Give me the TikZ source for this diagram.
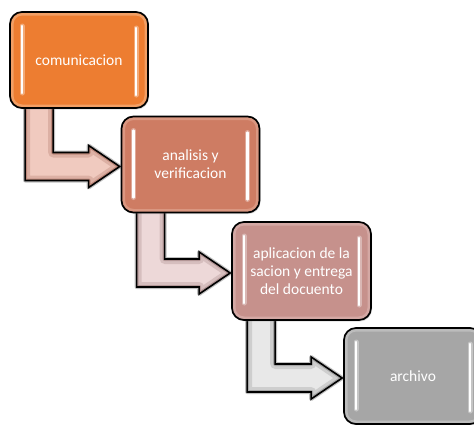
\documentclass[tikz,border=0pt]{standalone}
\usepackage{fontspec}
\setmainfont{Carlito}
\usetikzlibrary{calc,shadows}
\pgfdeclarelayer{bg}
\pgfsetlayers{bg,main}
\definecolor{cA}{HTML}{ED7D31}\definecolor{cArim}{HTML}{F4A872}
\definecolor{cB}{HTML}{CE7C63}\definecolor{cBrim}{HTML}{DE9E89}
\definecolor{cC}{HTML}{C6918C}\definecolor{cCrim}{HTML}{D8AEAA}
\definecolor{cD}{HTML}{A6A6A6}\definecolor{cDrim}{HTML}{C2C2C2}
\definecolor{aA}{HTML}{F0CABF}\definecolor{aAedge}{HTML}{B98173}
\definecolor{aB}{HTML}{EDD8D8}\definecolor{aBedge}{HTML}{AD8F8F}
\definecolor{aC}{HTML}{E8E8E8}\definecolor{aCedge}{HTML}{9E9E9E}
\newcommand\arrowpts[2]{%
  \coordinate (#1p) at ($(#1.south west)+(16,-8)$);
  \coordinate (#1q) at ($(#1.south west)+(44,-8)$);
  \coordinate (#1lo) at ($(#2.west)+(-32,16)$);
  \coordinate (#1up) at ($(#2.west)+(-32,-12)$);
  \coordinate (#1hl) at ($(#2.west)+(-32,23)$);
  \coordinate (#1hu) at ($(#2.west)+(-32,-19)$);
  \coordinate (#1t) at ($(#2.west)+(-1,2)$);
}
\newcommand\bentarrow[2]{% #1 upper box, #2 colour
  \draw[gray, opacity=0.5, line width=4pt, line join=round]
    (#1p) -- (#1p |- #1lo) -- (#1lo) -- (#1hl) -- (#1t) -- (#1hu) -- (#1up) -- (#1q |- #1up) -- (#1q) -- cycle;
  \begin{scope}
    \clip (#1p) -- (#1p |- #1lo) -- (#1lo) -- (#1hl) -- (#1t) -- (#1hu) -- (#1up) -- (#1q |- #1up) -- (#1q) -- cycle;
    \fill[#2] (#1p) -- (#1p |- #1lo) -- (#1lo) -- (#1hl) -- (#1t) -- (#1hu) -- (#1up) -- (#1q |- #1up) -- (#1q) -- cycle;
    \draw[#2edge, opacity=0.35, line width=10pt, line join=round]
      (#1p) -- (#1p |- #1lo) -- (#1lo) -- (#1hl) -- (#1t) -- (#1hu) -- (#1up) -- (#1q |- #1up) -- (#1q) -- cycle;
    \draw[#2edge, opacity=0.85, line width=4pt, line join=round]
      (#1p) -- (#1p |- #1lo) -- (#1lo) -- (#1hl) -- (#1t) -- (#1hu) -- (#1up) -- (#1q |- #1up) -- (#1q) -- cycle;
  \end{scope}
  \draw[black, line width=1.6pt, line join=miter]
    (#1p) -- (#1p |- #1lo) -- (#1lo) -- (#1hl) -- (#1t) -- (#1hu) -- (#1up) -- (#1q |- #1up) -- (#1q) -- cycle;
}
\begin{document}
\begin{tikzpicture}[x=1pt,y=-1pt,
  box/.style={draw=black, line width=1.7pt, rounded corners=12pt,
    fill=#1, minimum width=138pt, minimum height=96pt, inner sep=0pt,
    align=center, text=white, font=\fontsize{15.5}{18}\selectfont,
    drop shadow={opacity=0.25, shadow xshift=1pt, shadow yshift=-1.5pt},
    path picture={
      \draw[#1rim, line width=7pt, opacity=0.8, rounded corners=12pt]
        (path picture bounding box.north west) rectangle (path picture bounding box.south east);
      \draw[white, opacity=0.35, line width=5pt, line cap=round]
        ($(path picture bounding box.north west)+(12,14)$) -- ($(path picture bounding box.north west)+(12,81)$);
      \draw[white, opacity=0.35, line width=5pt, line cap=round]
        ($(path picture bounding box.north east)+(-12,16)$) -- ($(path picture bounding box.north east)+(-12,83)$);
      \draw[white, line width=2.2pt, line cap=round]
        ($(path picture bounding box.north west)+(12,14)$) -- ($(path picture bounding box.north west)+(12,81)$);
      \draw[white, line width=2.2pt, line cap=round]
        ($(path picture bounding box.north east)+(-12,16)$) -- ($(path picture bounding box.north east)+(-12,83)$);
    }}]
\useasboundingbox (0,0) rectangle (474,424);
\node[box=cA] (b1) at (79,60) {comunicacion};
\node[box=cB] (b2) at (190.5,164.5) {analisis y\\verificacion};
\node[box=cC, minimum width=139pt, minimum height=98pt] (b3) at (301.5,271) {aplicacion de la\\sacion y entrega\\del docuento};
\node[box=cD] (b4) at (413,376) {archivo};
\arrowpts{b1}{b2}
\arrowpts{b2}{b3}
\arrowpts{b3}{b4}
\begin{pgfonlayer}{bg}
  \bentarrow{b1}{aA}
  \bentarrow{b2}{aB}
  \bentarrow{b3}{aC}
\end{pgfonlayer}
\end{tikzpicture}
\end{document}
